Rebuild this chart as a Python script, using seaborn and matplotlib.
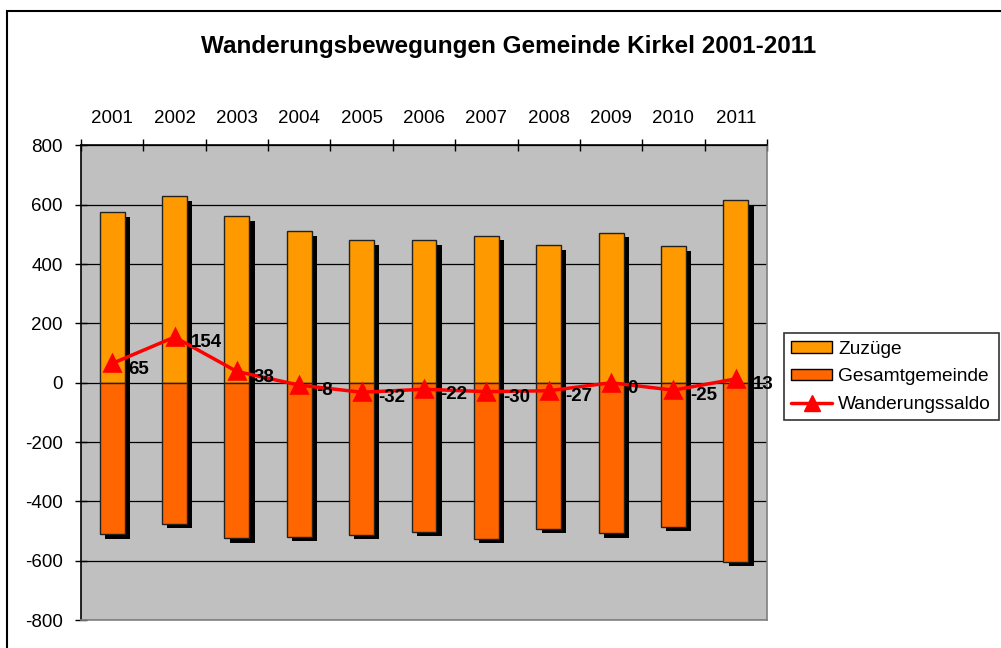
import seaborn as sns
import matplotlib.pyplot as plt
import matplotlib.patheffects as pe
from matplotlib.patches import Patch, Rectangle
from matplotlib.lines import Line2D

years = ["2001", "2002", "2003", "2004", "2005", "2006",
         "2007", "2008", "2009", "2010", "2011"]
zuzuege = [575, 629, 562, 511, 480, 480, 496, 465, 506, 460, 616]
fortzuege = [-510, -475, -524, -519, -512, -502, -526, -492, -506, -485, -603]
saldo = [65, 154, 38, -8, -32, -22, -30, -27, 0, -25, 13]

c_zu = "#FF9900"
c_fort = "#FF6600"
c_saldo = "#FF0000"

sns.set_style("white")
plt.rcParams["font.family"] = ["Liberation Sans", "DejaVu Sans"]
plt.rcParams["axes.unicode_minus"] = False
plt.rcParams["text.color"] = "black"
plt.rcParams["xtick.color"] = "black"
plt.rcParams["ytick.color"] = "black"
plt.rcParams["xtick.labelcolor"] = "black"
plt.rcParams["ytick.labelcolor"] = "black"

fig = plt.figure(figsize=(10.01, 6.48), dpi=100)
ax = fig.add_axes([0.0809, 0.0432, 0.6853, 0.7323])
ax.set_facecolor("#C0C0C0")

sns.barplot(x=years, y=zuzuege, color=c_zu, saturation=1, width=0.4,
            edgecolor="#222222", linewidth=1, ax=ax, zorder=2)
sns.barplot(x=years, y=fortzuege, color=c_fort, saturation=1, width=0.4,
            edgecolor="#222222", linewidth=1, ax=ax, zorder=2)

# Excel-like drop shadow
shadow = [pe.SimplePatchShadow(offset=(3.8, -3.4), shadow_rgbFace="black", alpha=1.0),
          pe.Normal()]
for p in ax.patches:
    p.set_path_effects(shadow)

sns.pointplot(x=years, y=saldo, color=c_saldo, markers="^", markersize=12,
              linewidth=2.5, errorbar=None, ax=ax, zorder=4)

for i, v in enumerate(saldo):
    ax.annotate(str(v), (i, v), xytext=(12, -4), textcoords="offset points",
                ha="left", va="center", fontsize=13.5, fontweight="bold",
                color="black", zorder=5)

ax.set_ylim(-800, 800)
ax.set_yticks(range(-800, 801, 200))
ax.set_xlim(-0.5, len(years) - 0.5)
ax.yaxis.grid(True, color="black", linewidth=0.9)
ax.set_axisbelow(True)

ax.xaxis.tick_top()
ax.set_xticks(range(len(years)))
ax.set_xticklabels(years)
ax.set_xticks([i - 0.5 for i in range(len(years) + 1)], minor=True)
ax.tick_params(axis="x", which="major", length=0, pad=13, labelsize=13.5)
ax.tick_params(axis="x", which="minor", direction="inout", length=9,
               width=1, color="black", top=True, bottom=False)
ax.tick_params(axis="y", direction="inout", length=9, width=1, pad=8.5,
               labelsize=13.5, left=True)
ax.set_xlabel("")
ax.set_ylabel("")

for side in ["left", "top"]:
    ax.spines[side].set_color("black")
    ax.spines[side].set_linewidth(1.2)
for side in ["right", "bottom"]:
    ax.spines[side].set_color("#808080")
    ax.spines[side].set_linewidth(1.2)

fig.text(0.508, 0.929, "Wanderungsbewegungen Gemeinde Kirkel 2001-2011",
         ha="center", va="center", fontsize=17.5, fontweight="bold", color="black")

handles = [
    Patch(facecolor=c_zu, edgecolor="black", linewidth=1),
    Patch(facecolor=c_fort, edgecolor="black", linewidth=1),
    Line2D([], [], color=c_saldo, linewidth=2.5, marker="^", markersize=12),
]
labels = ["Zuzüge", "Gesamtgemeinde", "Wanderungssaldo"]
leg = fig.legend(handles, labels, loc="upper left", bbox_to_anchor=(0.783, 0.486),
                 borderaxespad=0, fontsize=13.8, frameon=True, fancybox=False,
                 edgecolor="black", handlelength=2.1, handleheight=0.55,
                 handletextpad=0.35, borderpad=0.4, labelspacing=0.55)
leg.get_frame().set_linewidth(1.2)

fig.patches.append(Rectangle((7 / 1001, -0.1), 1.2, 1.083, transform=fig.transFigure,
                             fill=False, edgecolor="black", linewidth=1.5))

plt.savefig("out.png", dpi=100)
